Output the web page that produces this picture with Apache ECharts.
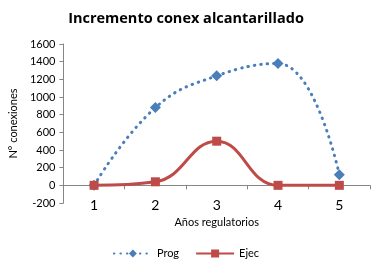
<!DOCTYPE html>
<html>
<head>
<meta charset="utf-8">
<script src="https://cdn.jsdelivr.net/npm/echarts@6/dist/echarts.min.js"></script>
<style>
html, body { margin: 0; padding: 0; background: #fff; }
#chart { width: 372px; height: 267px; }
</style>
</head>
<body>
<div id="chart"></div>
<script>
// datos del gráfico
const categories = ['1', '2', '3', '4', '5'];
const prog = [0, 880, 1240, 1380, 120];
const ejec = [0, 40, 500, 0, 0];
const yTicks = { min: -200, max: 1600, interval: 200 };

const chart = echarts.init(document.getElementById('chart'));
const fontFamily = 'Lato, "Liberation Sans", sans-serif';

const option = {
	animation: false,
	textStyle: { fontFamily: fontFamily },
	title: {
		text: 'Incremento conex alcantarillado',
		left: 'center',
		top: 6,
		textStyle: { fontSize: 14.5, fontWeight: 'bold', color: '#000', fontFamily: '"Open Sans", sans-serif' }
	},
	legend: {
		bottom: 3,
		left: 'center',
		itemWidth: 38,
		itemHeight: 10,
		itemGap: 16,
		textStyle: { fontSize: 11, color: '#000' },
		data: ['Prog', 'Ejec']
	},
	grid: { left: 60, right: 2, top: 44, bottom: 64 },
	xAxis: [
		{
			type: 'category',
			data: categories,
			boundaryGap: true,
			position: 'bottom',
			axisLine: { show: false, onZero: false },
			axisTick: { show: false },
			axisLabel: { fontSize: 14, color: '#000', margin: 2, verticalAlign: 'middle' },
			name: 'Años regulatorios',
			nameLocation: 'middle',
			nameGap: 12,
			nameTextStyle: { fontSize: 11, color: '#000' }
		},
		{
			type: 'category',
			data: categories,
			boundaryGap: true,
			position: 'bottom',
			axisLine: { show: true, onZero: true, lineStyle: { color: '#868686', width: 1 } },
			axisTick: { show: true, length: 4, lineStyle: { color: '#868686' } },
			axisLabel: { show: false }
		}
	],
	yAxis: {
		type: 'value',
		min: yTicks.min,
		max: yTicks.max,
		interval: yTicks.interval,
		axisLine: { show: true, lineStyle: { color: '#868686' } },
		axisTick: { show: true, inside: false, length: 4, lineStyle: { color: '#868686' } },
		axisLabel: { fontSize: 11, color: '#000', margin: 8, formatter: (v) => String(v) },
		splitLine: { show: false },
		name: 'N° conexiones',
		nameLocation: 'middle',
		nameGap: 39,
		nameRotate: 90,
		nameTextStyle: { fontSize: 11, color: '#000' }
	},
	series: [
		{
			name: 'Prog',
			type: 'line',
			xAxisIndex: 0,
			data: prog,
			smooth: 0.45,
			symbol: 'diamond',
			symbolSize: 11,
			lineStyle: { color: '#4a7ebb', width: 3, type: [0.5, 6], cap: 'round' },
			itemStyle: { color: '#4a7ebb' }
		},
		{
			name: 'Ejec',
			type: 'line',
			xAxisIndex: 0,
			data: ejec,
			smooth: 0.45,
			symbol: 'rect',
			symbolSize: 9,
			lineStyle: { color: '#be4b48', width: 3 },
			itemStyle: { color: '#be4b48' }
		}
	]
};

chart.setOption(option);
window.addEventListener('resize', () => {
	chart.resize();
});
</script>
</body>
</html>
